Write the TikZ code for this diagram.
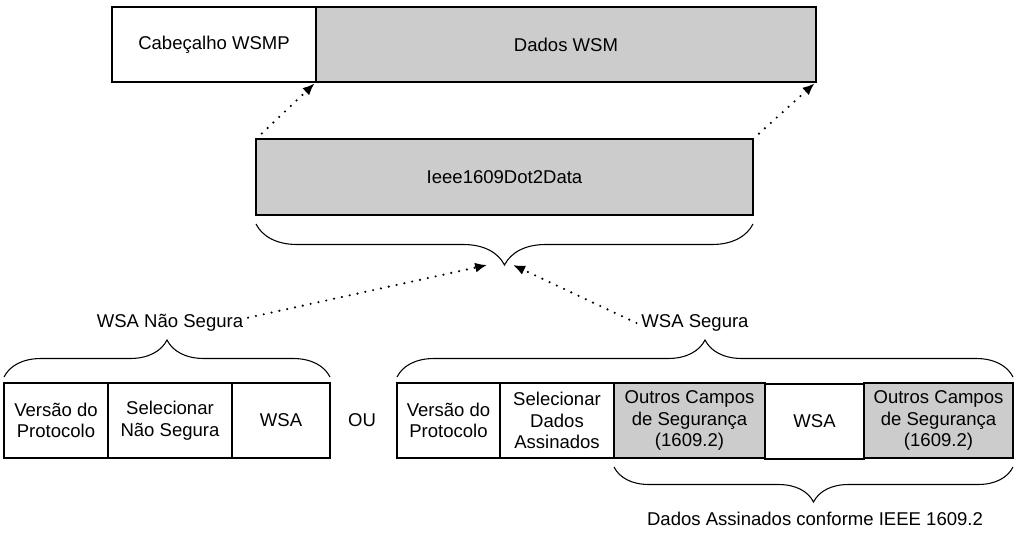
\documentclass[tikz,border=0pt]{standalone}
\usepackage{fontspec}
\setmainfont{Liberation Sans}
\usetikzlibrary{arrows, arrows.meta, positioning, calc, decorations.pathreplacing}

\tikzset{
  field/.style={draw, outer sep=0pt, inner sep=1pt, minimum height=56.25pt, align=center},
  shaded/.style={field, fill=black!20},
  dotarrow/.style={-{Latex[length=9pt,width=7.5pt]}, line width=1.8pt, dash pattern=on 0pt off 6pt, line cap=round},
  curly/.style={decorate, decoration={brace, amplitude=#1}},
}

\begin{document}
\begin{tikzpicture}[x=0.75pt, y=-0.75pt, line width=0.8pt, font=\fontsize{13.9}{16.1}\selectfont]
      \useasboundingbox (0,0) rectangle (1018,547);

      \node[field, minimum width=153pt, anchor=north west] (wsmp) at (112,7) {Cabeçalho WSMP};
      \node[shaded, minimum width=375pt, right=0pt of wsmp] (wsm) {Dados WSM};
      \node[shaded, minimum width=372.75pt, minimum height=57pt, anchor=north west] (ieee) at (256,139) {Ieee1609Dot2Data};

      \draw[dotarrow, shorten <=6pt, shorten >=1.5pt] (ieee.north west) -- (wsmp.south east);
      \draw[dotarrow, shorten <=6pt, shorten >=1.5pt] (ieee.north east) -- (wsm.south east);

      \draw[curly=30.75pt] ([yshift=-6.75pt]ieee.south east) -- ([yshift=-6.75pt]ieee.south west);
      \coordinate (ieeetip) at ([yshift=-37.5pt]ieee.south);

      \node (nseg) at (170,323) {WSA Não Segura};
      \node (seg) at (695,323) {WSA Segura};
      \draw[dotarrow] ([yshift=4pt]nseg.east) -- ([xshift=-13pt]ieeetip);
      \draw[dotarrow] (seg.west) -- ([xshift=6.4pt]ieeetip);

      \node[field, minimum width=78pt, anchor=north west] (ver1) at (4,383) {Versão do\\Protocolo};
      \node[field, minimum width=93pt, right=0pt of ver1] (sel1) {Selecionar\\Não Segura};
      \node[field, minimum width=73.5pt, right=0pt of sel1] (wsa1) {WSA};
      \node (ou) at (362,420) {OU};

      \node[field, minimum width=77.25pt, anchor=north west] (ver2) at (397,383) {Versão do\\Protocolo};
      \node[field, minimum width=85.5pt, right=0pt of ver2] (sel2) {Selecionar\\Dados\\Assinados};
      \node[shaded, minimum width=113.25pt, right=0pt of sel2] (sec1) {Outros Campos\\de Segurança\\(1609.2)};
      \node[field, minimum width=74.25pt, right=0pt of sec1, yshift=-0.75pt] (wsa2) {WSA};
      \node[shaded, minimum width=111.75pt, right=0pt of wsa2, yshift=0.75pt] (sec2) {Outros Campos\\de Segurança\\(1609.2)};

      \draw[curly=27.75pt] ([yshift=4.5pt]ver1.north west) -- ([yshift=4.5pt]wsa1.north east);
      \draw[curly=27.75pt] ([yshift=4.5pt]ver2.north west) -- ([yshift=4.5pt]sec2.north east);
      \draw[curly=26.25pt] ([yshift=-6.75pt]sec2.south east) -- ([yshift=-6.75pt]sec1.south west);

      \node (assin) at (815,519) {Dados Assinados conforme IEEE 1609.2};
\end{tikzpicture}
\end{document}
